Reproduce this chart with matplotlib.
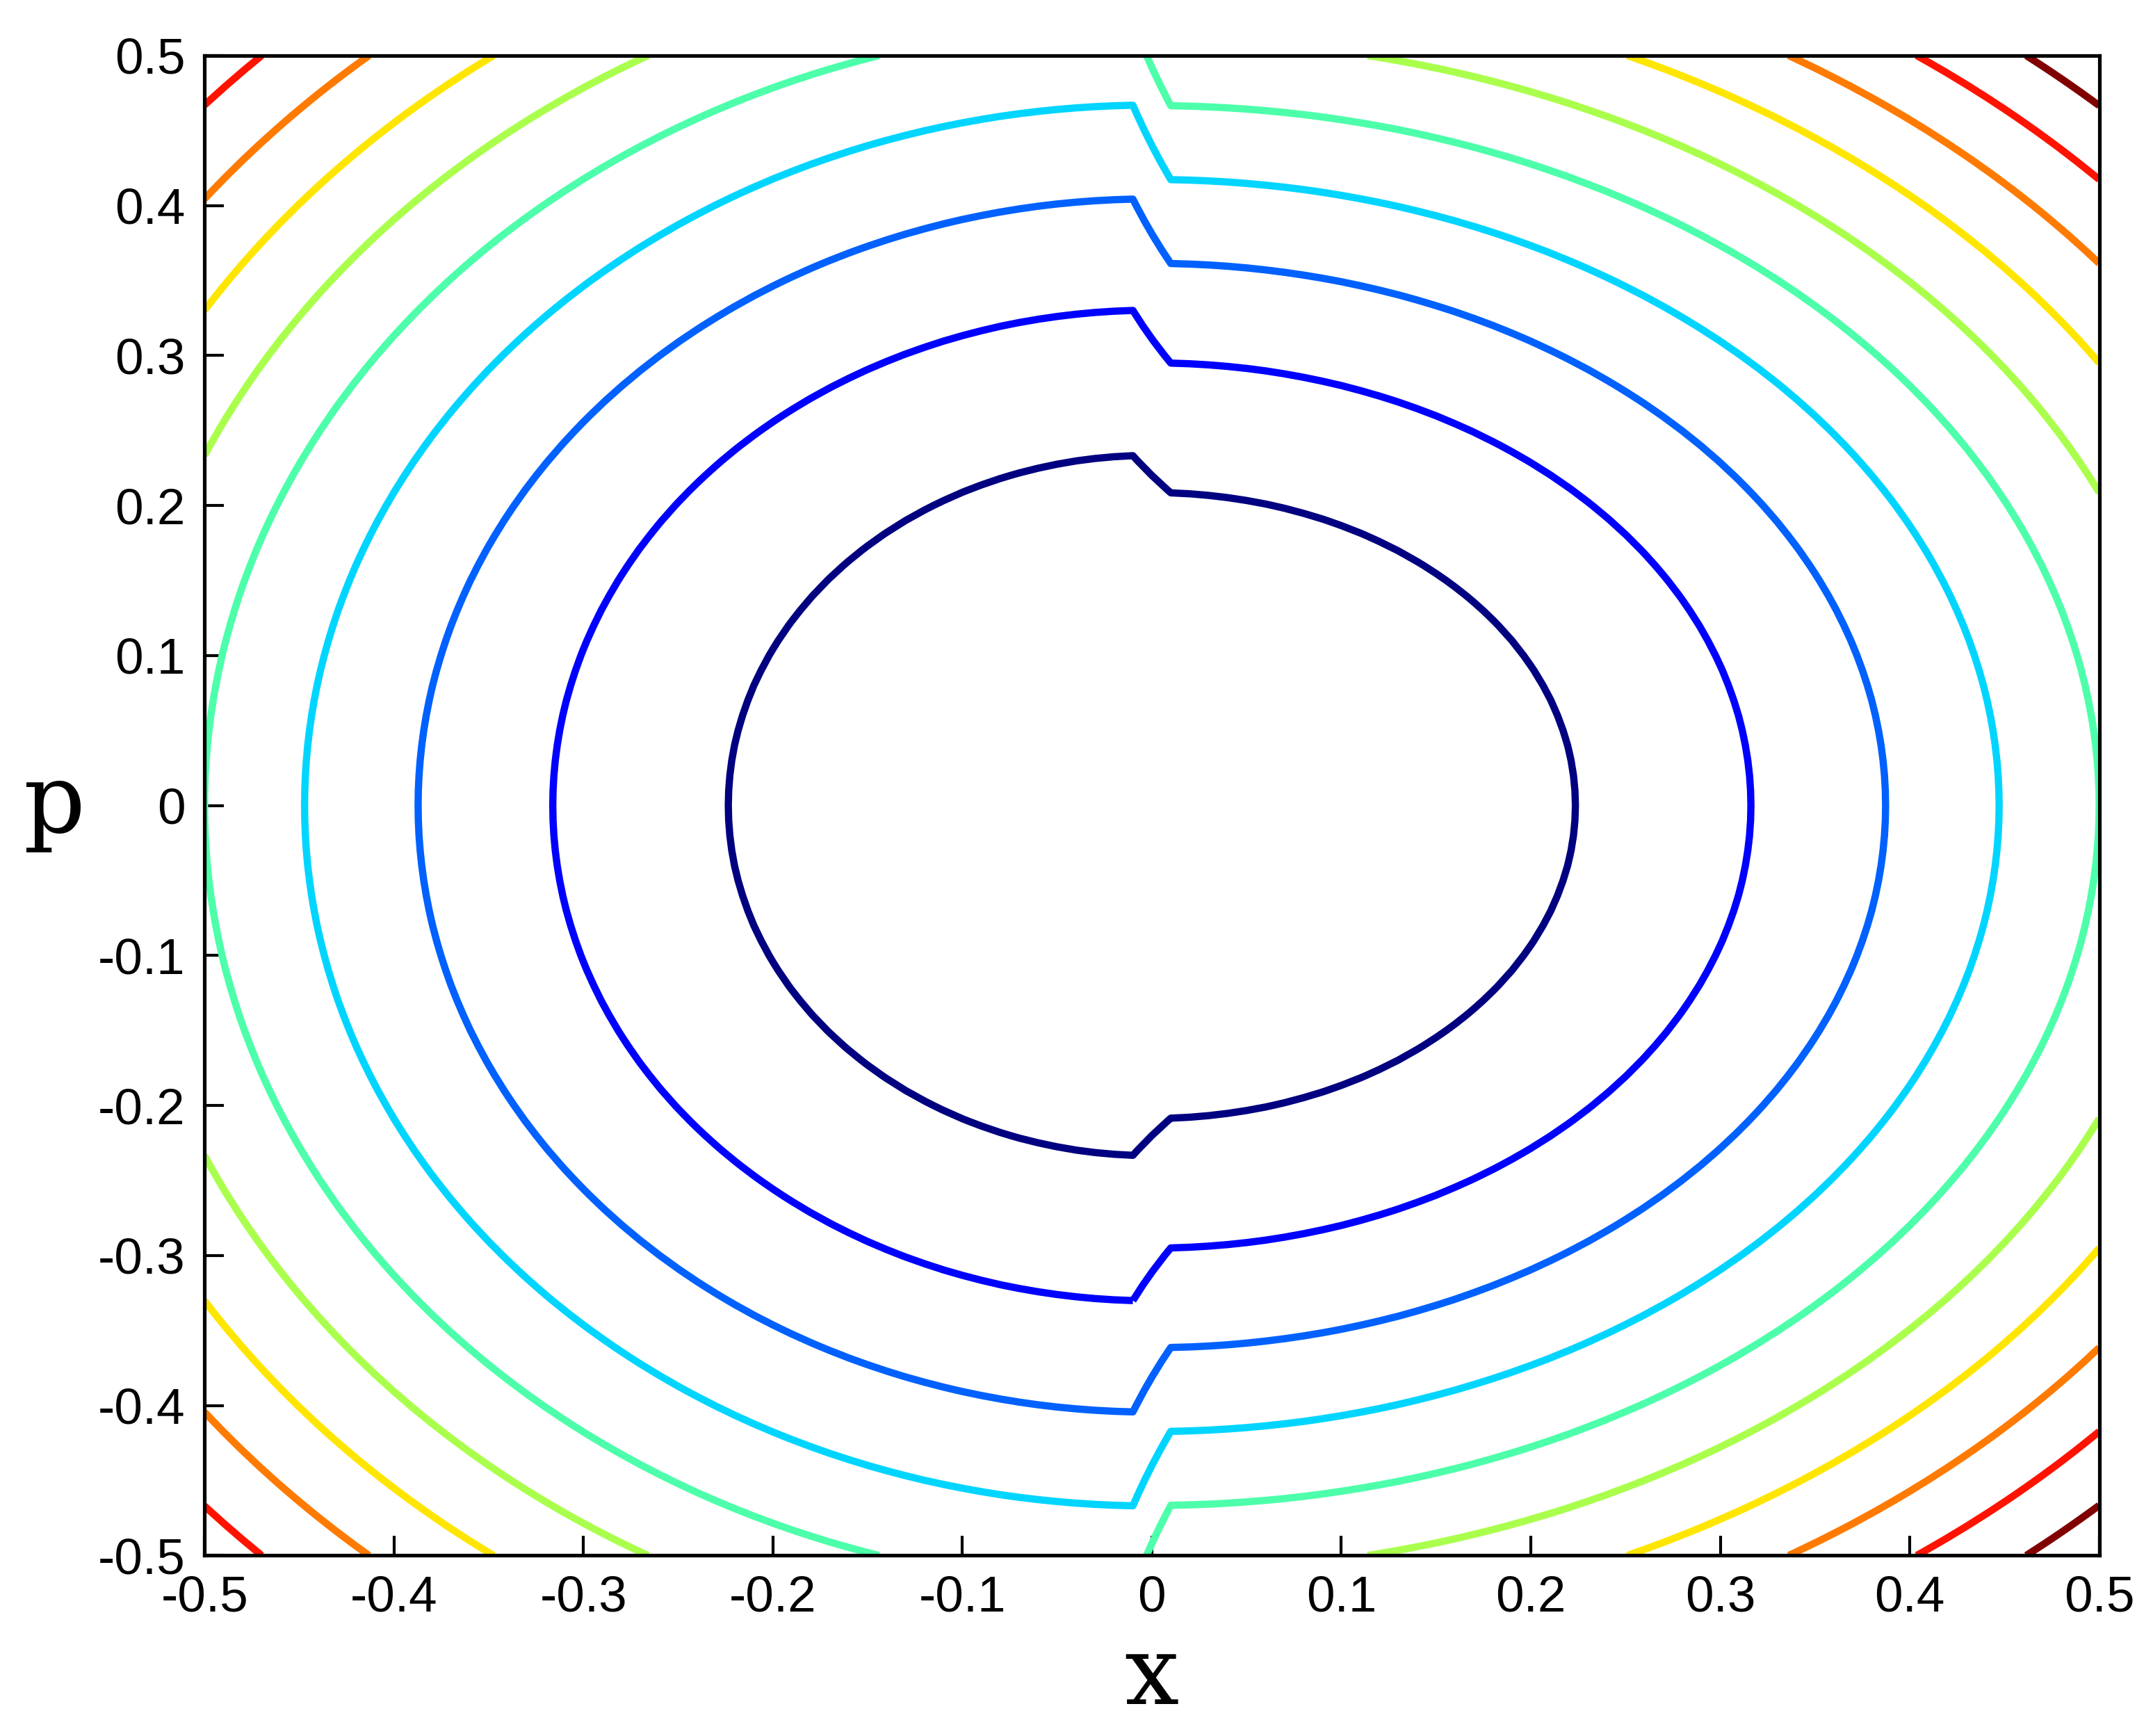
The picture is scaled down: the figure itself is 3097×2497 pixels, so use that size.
import numpy as np
import matplotlib
matplotlib.use("Agg")
import matplotlib.pyplot as plt

# Model parameters: H = x^2 + a(x) p^2
a_left = 0.917
a_right = 1.148
levels = [0.05, 0.10, 0.15, 0.20, 0.25, 0.30, 0.35, 0.40, 0.45, 0.50]
xticks = [-0.5, -0.4, -0.3, -0.2, -0.1, 0, 0.1, 0.2, 0.3, 0.4, 0.5]
yticks = [-0.5, -0.4, -0.3, -0.2, -0.1, 0, 0.1, 0.2, 0.3, 0.4, 0.5]

x = np.linspace(-0.5, 0.5, 101)
p = np.linspace(-0.5, 0.5, 101)
X, P = np.meshgrid(x, p)
A = np.where(X < 0, a_left, np.where(X > 0, a_right, 0.5 * (a_left + a_right)))
H = X**2 + A * P**2

fig = plt.figure(figsize=(12.388, 9.988), dpi=250)
ax = fig.add_axes([0.095, 0.104, 0.88, 0.864])
ax.contour(X, P, H, levels=levels, cmap="jet", linewidths=3.0)
ax.set_xlim(-0.5, 0.5)
ax.set_ylim(-0.5, 0.5)
ax.set_xticks(xticks)
ax.set_yticks(yticks)
ax.set_xticklabels([f"{t:g}" for t in xticks])
ax.set_yticklabels([f"{t:g}" for t in yticks])
ax.tick_params(direction="in", labelsize=21, length=8, width=1.2, pad=8)
for lab in ax.get_xticklabels() + ax.get_yticklabels():
    lab.set_family("Liberation Sans")
for s in ax.spines.values():
    s.set_linewidth(1.5)
ax.set_xlabel("x", fontsize=40, family="DejaVu Serif", labelpad=4)
ax.set_ylabel("p", fontsize=40, family="DejaVu Serif", rotation=0, labelpad=18, va="center")
fig.savefig("out.png", dpi=250, facecolor="white")
